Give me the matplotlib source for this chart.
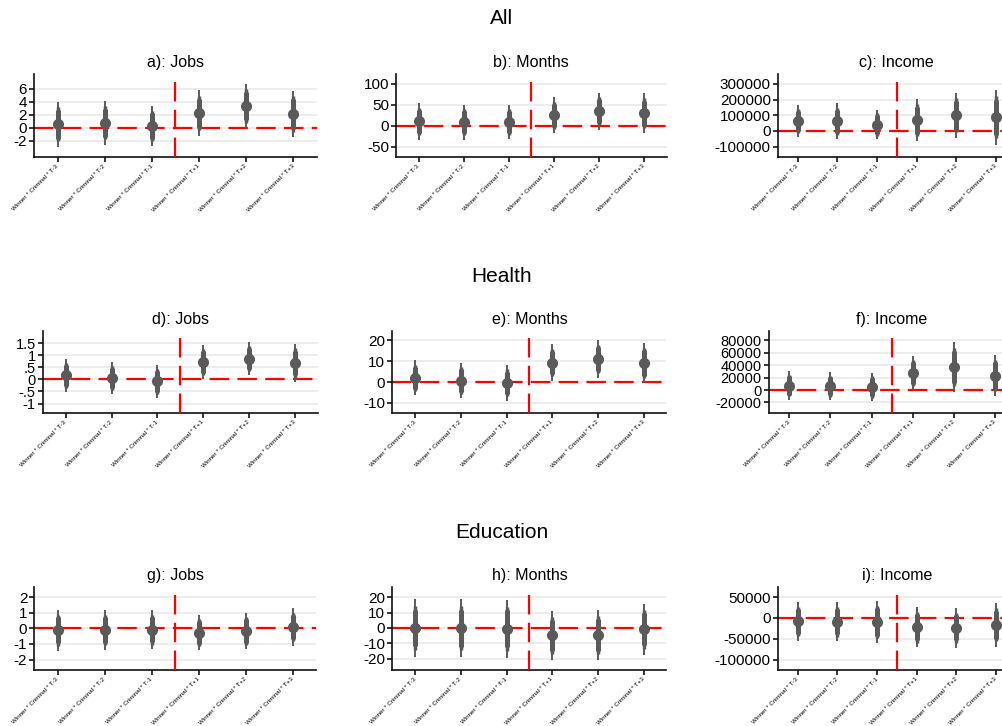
import numpy as np
import matplotlib
matplotlib.use("Agg")
import matplotlib.pyplot as plt

plt.rcParams['font.family'] = ['Liberation Sans', 'DejaVu Sans']
plt.rcParams['lines.scale_dashes'] = False

# coefficient labels (same in every panel)
coef_labels = ['Winner * Criminal * T-3', 'Winner * Criminal * T-2', 'Winner * Criminal * T-1',
               'Winner * Criminal * T+1', 'Winner * Criminal * T+2', 'Winner * Criminal * T+3']

# point estimates and standard errors
all_jobs_b = [0.55, 0.77, 0.28, 2.26, 3.38, 2.13]
all_jobs_se = [1.34, 1.31, 1.20, 1.36, 1.34, 1.40]
all_months_b = [10.0, 7.8, 7.8, 24.2, 34.4, 29.8]
all_months_se = [16.8, 16.0, 15.7, 16.6, 17.1, 18.2]
all_income_b = [62000, 61000, 40000, 68000, 99000, 86000]
all_income_se = [40200, 44800, 36500, 51800, 55300, 68500]

health_jobs_b = [0.165, 0.05, -0.085, 0.72, 0.86, 0.67]
health_jobs_se = [0.267, 0.256, 0.27, 0.28, 0.27, 0.31]
health_months_b = [2.0, 0.7, -0.4, 9.4, 11.0, 9.1]
health_months_se = [3.26, 3.3, 3.3, 3.43, 3.5, 3.74]
health_income_b = [7300, 6100, 4700, 27100, 37200, 23400]
health_income_se = [8850, 8750, 8870, 10640, 15500, 13100]

educ_jobs_b = [-0.13, -0.11, -0.08, -0.28, -0.17, 0.08]
educ_jobs_se = [0.51, 0.50, 0.49, 0.44, 0.46, 0.47]
educ_months_b = [0.0, -0.1, -0.6, -4.8, -4.6, -0.9]
educ_months_se = [7.2, 7.3, 7.27, 6.17, 6.3, 6.35]
educ_income_b = [-8000, -8500, -9600, -22000, -23500, -16000]
educ_income_se = [17800, 18300, 19800, 18750, 18300, 20400]

# confidence levels: 99, 95, 90 (thin to thick)
z_levels = [2.576, 1.960, 1.645]
ci_widths = [1.4, 2.5, 3.6]

W, H = 1003, 726
fig = plt.figure(figsize=(W / 100, H / 100), dpi=100)

gray = '#5a5a5a'


def fmt(v):
    s = '%g' % v
    if v != 0 and abs(v) < 1:
        s = s.replace('0.', '.', 1)
    return s


def panel(rect, title, b, se, ylim, yticks, ysize=11):
    left, top, right, bottom = rect
    ax = fig.add_axes([left / W, 1 - bottom / H, (right - left) / W, (bottom - top) / H])
    x = np.arange(1, len(b) + 1)
    b = np.asarray(b, dtype=float)
    se = np.asarray(se, dtype=float)

    ax.axhline(0, color='red', lw=1.6, ls=(0, (14, 6)), zorder=2)
    ax.axvline(3.5, color='red', lw=1.6, ls=(0, (14, 6)), zorder=5)
    for z, lw in zip(z_levels, ci_widths):
        ax.vlines(x, b - z * se, b + z * se, color=gray, lw=lw, zorder=3)
    ax.plot(x, b, 'o', color=gray, ms=7, mec=gray, zorder=4)

    ax.set_xlim(0.5, 6.5)
    ax.set_ylim(*ylim)
    ax.set_yticks(yticks)
    ax.set_yticklabels([fmt(v) for v in yticks], fontsize=ysize)
    ax.set_xticks(x)
    ax.set_xticklabels(coef_labels, fontsize=4.5, rotation=45, ha='right',
                       va='center', rotation_mode='anchor')
    ax.grid(axis='y', color='#e8e8e8', lw=1.1, zorder=0)
    ax.set_axisbelow(True)
    for s in ['top', 'right']:
        ax.spines[s].set_visible(False)
    for s in ['left', 'bottom']:
        ax.spines[s].set_linewidth(1.2)
        ax.spines[s].set_color('#111111')
    ax.tick_params(axis='y', length=3.5, width=1.1, pad=1.5)
    ax.tick_params(axis='x', length=3.5, width=1.1, pad=2.5)
    ax.set_title(title, fontsize=11.5, pad=5)
    return ax


# layout in pixels: left, top, right, bottom
panel((34, 74, 317, 157), 'a): Jobs', all_jobs_b, all_jobs_se, (-4.5, 8.3), [-2, 0, 2, 4, 6])
panel((396, 74, 666.5, 157), 'b): Months', all_months_b, all_months_se, (-75, 123), [-50, 0, 50, 100])
panel((777.7, 74, 1016, 157), 'c): Income', all_income_b, all_income_se, (-167000, 363000),
      [-100000, 0, 100000, 200000, 300000])

panel((42.7, 330.5, 318, 413), 'd): Jobs', health_jobs_b, health_jobs_se, (-1.39, 2.02),
      [-1, -0.5, 0, 0.5, 1, 1.5], ysize=10.5)
panel((392.3, 330.5, 666.5, 413), 'e): Months', health_months_b, health_months_se, (-14.9, 24.8),
      [-10, 0, 10, 20])
panel((768.7, 330.5, 1015.5, 413), 'f): Income', health_income_b, health_income_se, (-37100, 96100),
      [-20000, 0, 20000, 40000, 60000, 80000], ysize=10.5)

panel((34.3, 587.3, 316.5, 670), 'g): Jobs', educ_jobs_b, educ_jobs_se, (-2.67, 2.63), [-2, -1, 0, 1, 2])
panel((392.3, 587.3, 666.5, 670), 'h): Months', educ_months_b, educ_months_se, (-27.3, 26.4),
      [-20, -10, 0, 10, 20])
panel((777.7, 587.3, 1016, 670), 'i): Income', educ_income_b, educ_income_se, (-124400, 73400),
      [-100000, -50000, 0, 50000])

for y, t in [(19, 'All'), (276, 'Health'), (533, 'Education')]:
    fig.text(0.5, 1 - y / H, t, ha='center', va='center', fontsize=15)

fig.savefig('out.png', dpi=100)
